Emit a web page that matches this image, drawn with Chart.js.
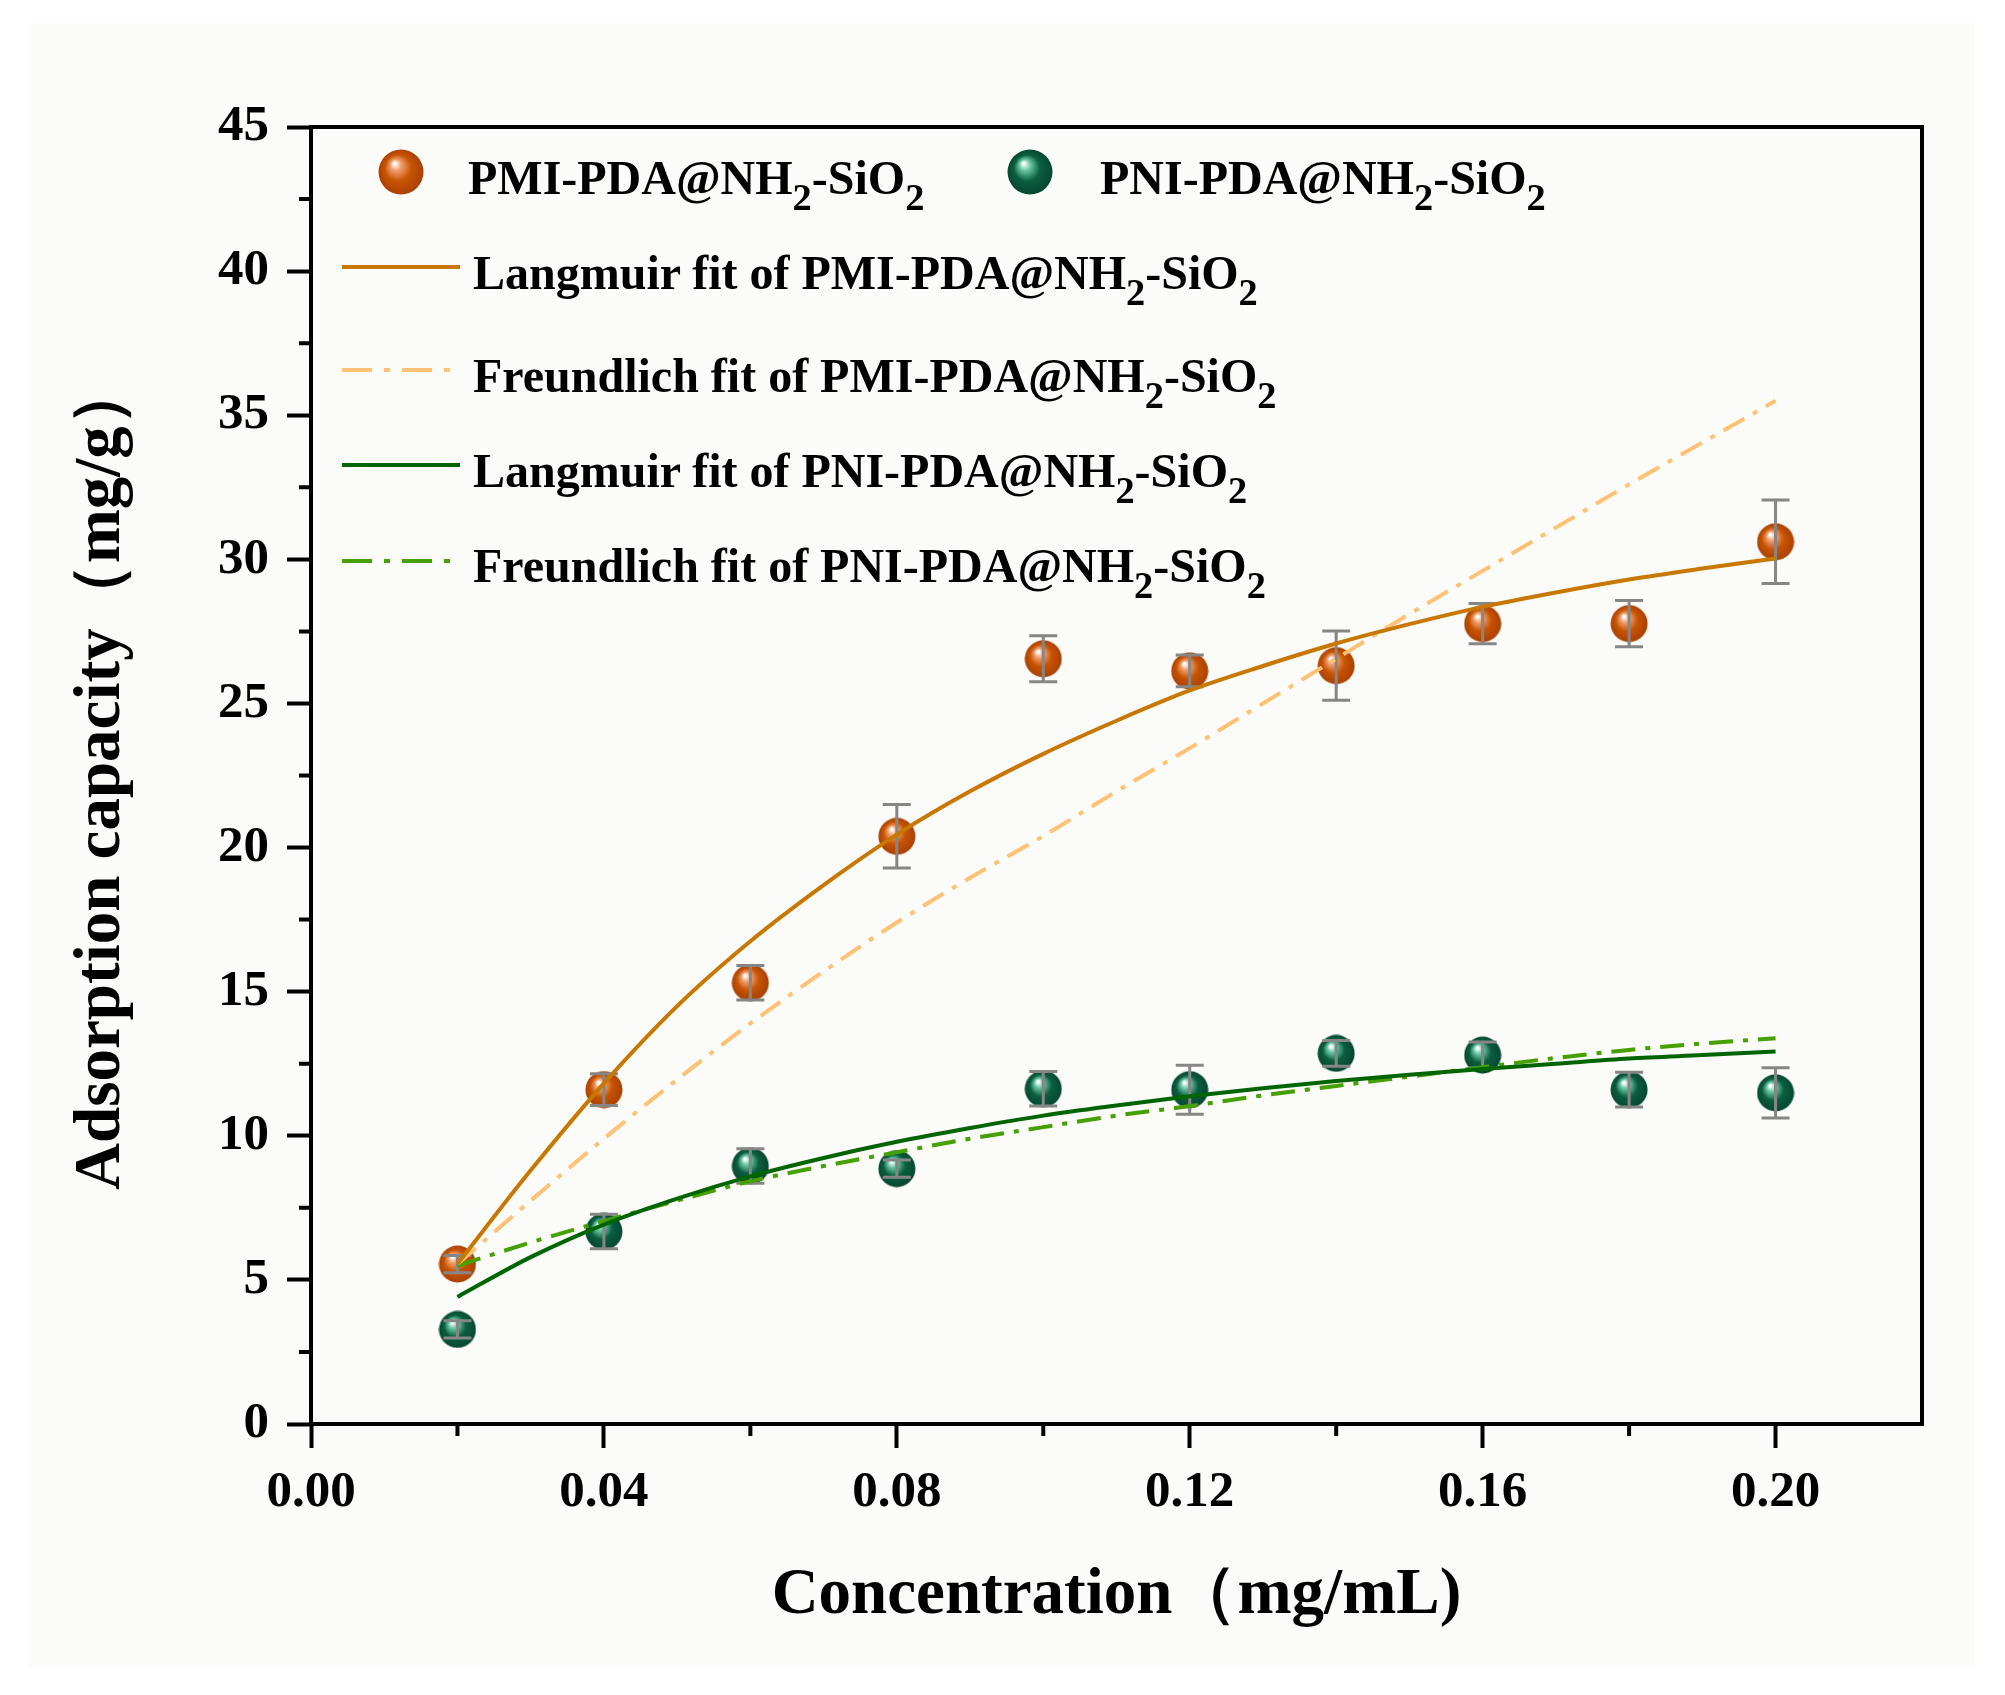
<!DOCTYPE html>
<html>
<head>
<meta charset="utf-8">
<title>Adsorption capacity vs concentration</title>
<script src="https://cdn.jsdelivr.net/npm/chart.js@4.4.1/dist/chart.umd.min.js"></script>
<style>
  body { margin: 0; background: #fff; }
  #wrap { position: relative; width: 2005px; height: 1695px; }
  #legend {
    position: absolute; left: 0; top: 0;
    font-family: 'Liberation Serif', 'Times New Roman', serif;
    font-weight: bold; font-size: 48px; color: #000;
  }
  .lg-text { position: absolute; white-space: nowrap; line-height: 56px; }
  .lg-text sub { font-size: 0.8em; line-height: 0; vertical-align: -16px; }
  .lg-mark, .lg-line { position: absolute; }
</style>
</head>
<body>
<div id="wrap">
  <canvas id="chart" width="2005" height="1695"></canvas>
  <div id="legend"></div>
</div>
<script>
// measured points (mg/mL -> mg/g)
const concentration = [0.02, 0.04, 0.06, 0.08, 0.10, 0.12, 0.14, 0.16, 0.18, 0.20];
const pmiCapacity = [5.55, 11.6, 15.31, 20.39, 26.55, 26.13, 26.31, 27.77, 27.77, 30.61];
const pmiError = [0.3, 0.55, 0.6, 1.1, 0.8, 0.55, 1.2, 0.7, 0.8, 1.45];
const pniCapacity = [3.28, 6.68, 8.95, 8.86, 11.63, 11.6, 12.86, 12.8, 11.6, 11.49];
const pniError = [0.3, 0.6, 0.6, 0.3, 0.6, 0.85, 0.45, 0.45, 0.6, 0.87];

// fitted curves
const fitConcentration = [0.02, 0.03, 0.04, 0.05, 0.06, 0.07, 0.08, 0.09, 0.10, 0.11,
                          0.12, 0.13, 0.14, 0.15, 0.16, 0.17, 0.18, 0.19, 0.20];
const pmiLangmuir = [5.55, 8.8, 11.82, 14.5, 16.75, 18.7, 20.45, 21.95, 23.25, 24.4,
                     25.45, 26.3, 27.08, 27.75, 28.35, 28.85, 29.3, 29.68, 30.03];
const pmiFreundlich = [5.55, 7.75, 9.9, 11.95, 13.9, 15.7, 17.4, 18.95, 20.4, 21.95,
                       23.45, 25.0, 26.55, 28.1, 29.6, 31.1, 32.6, 34.05, 35.5];
const pniLangmuir = [4.41, 5.79, 6.92, 7.82, 8.59, 9.23, 9.79, 10.27, 10.7, 11.05,
                     11.37, 11.65, 11.9, 12.12, 12.32, 12.5, 12.68, 12.8, 12.92];
const pniFreundlich = [5.49, 6.3, 7.04, 7.75, 8.42, 8.95, 9.43, 9.9, 10.3, 10.7,
                       11.03, 11.4, 11.73, 12.05, 12.38, 12.7, 12.98, 13.2, 13.38];

// axes
const xTickValues = [0, 0.04, 0.08, 0.12, 0.16, 0.20];
const xMinorValues = [0.02, 0.06, 0.10, 0.14, 0.18];
const yTickValues = [0, 5, 10, 15, 20, 25, 30, 35, 40, 45];
const yMinorValues = [2.5, 7.5, 12.5, 17.5, 22.5, 27.5, 32.5, 37.5, 42.5];

const seriesNames = [
  'PMI-PDA@NH2-SiO2',
  'PNI-PDA@NH2-SiO2',
  'Langmuir fit of PMI-PDA@NH2-SiO2',
  'Freundlich fit of PMI-PDA@NH2-SiO2',
  'Langmuir fit of PNI-PDA@NH2-SiO2',
  'Freundlich fit of PNI-PDA@NH2-SiO2'
];
const xTitle = 'Concentration（mg/mL)';
const yTitle = 'Adsorption capacity（mg/g）';

const FONT = "'Liberation Serif', 'Times New Roman', serif";
const DASH_DOT = [24, 10, 5, 10];

// shiny ball used as point style
function makeBall(size, light, base, dark) {
  const c = document.createElement('canvas');
  c.width = size; c.height = size;
  const g = c.getContext('2d');
  const r = size / 2;
  const grad = g.createRadialGradient(r * 0.72, r * 0.62, 1, r, r, r);
  grad.addColorStop(0, '#ffffff');
  grad.addColorStop(0.2, light);
  grad.addColorStop(0.55, base);
  grad.addColorStop(1, dark);
  g.fillStyle = grad;
  g.beginPath();
  g.arc(r, r, r - 0.5, 0, Math.PI * 2);
  g.fill();
  return c;
}
const orangeBall = makeBall(38, '#f0a070', '#c85404', '#a84000');
const greenBall = makeBall(38, '#6cc8a8', '#0b5e40', '#064632');

const toPoints = (xs, ys) => xs.map((x, i) => ({ x: x, y: ys[i] }));

const bgPlugin = {
  id: 'paper',
  beforeDraw(chart) {
    const ctx = chart.ctx;
    ctx.save();
    ctx.fillStyle = '#ffffff';
    ctx.fillRect(0, 0, chart.width, chart.height);
    ctx.fillStyle = '#fbfbf9';
    ctx.fillRect(28, 23, 1947, 1644);
    ctx.restore();
  }
};

const errorBarPlugin = {
  id: 'errorBars',
  afterDatasetDraw(chart, args) {
    const ds = chart.data.datasets[args.index];
    if (!ds.errors) return;
    const { ctx, scales: { x, y } } = chart;
    ctx.save();
    ctx.strokeStyle = '#868686';
    ctx.lineWidth = 3;
    ds.data.forEach((p, i) => {
      const px = x.getPixelForValue(p.x);
      const top = y.getPixelForValue(p.y + ds.errors[i]);
      const bot = y.getPixelForValue(p.y - ds.errors[i]);
      ctx.beginPath();
      ctx.moveTo(px, top); ctx.lineTo(px, bot);
      ctx.moveTo(px - 14, top); ctx.lineTo(px + 14, top);
      ctx.moveTo(px - 14, bot); ctx.lineTo(px + 14, bot);
      ctx.stroke();
    });
    ctx.restore();
  }
};

const framePlugin = {
  id: 'frame',
  afterDraw(chart) {
    const { ctx, chartArea: a, scales: { x, y } } = chart;
    ctx.save();
    ctx.strokeStyle = '#000';
    ctx.lineWidth = 4;
    ctx.strokeRect(a.left, a.top, a.right - a.left, a.bottom - a.top);
    ctx.beginPath();
    yMinorValues.forEach(v => {
      const py = y.getPixelForValue(v);
      ctx.moveTo(a.left - 12, py); ctx.lineTo(a.left, py);
    });
    xMinorValues.forEach(v => {
      const px = x.getPixelForValue(v);
      ctx.moveTo(px, a.bottom); ctx.lineTo(px, a.bottom + 12);
    });
    ctx.stroke();
    ctx.restore();
  }
};

new Chart(document.getElementById('chart'), {
  type: 'scatter',
  data: {
    datasets: [
      {
        label: seriesNames[0],
        data: toPoints(concentration, pmiCapacity),
        errors: pmiError,
        pointStyle: orangeBall,
        pointRadius: 19,
        order: 2
      },
      {
        label: seriesNames[1],
        data: toPoints(concentration, pniCapacity),
        errors: pniError,
        pointStyle: greenBall,
        pointRadius: 19,
        order: 2
      },
      {
        label: seriesNames[2],
        data: toPoints(fitConcentration, pmiLangmuir),
        showLine: true, pointRadius: 0,
        borderColor: '#c87800', borderWidth: 4,
        cubicInterpolationMode: 'monotone',
        order: 0
      },
      {
        label: seriesNames[3],
        data: toPoints(fitConcentration, pmiFreundlich),
        showLine: true, pointRadius: 0,
        borderColor: '#ffc274', borderWidth: 4, borderDash: DASH_DOT,
        cubicInterpolationMode: 'monotone',
        order: 1
      },
      {
        label: seriesNames[4],
        data: toPoints(fitConcentration, pniLangmuir),
        showLine: true, pointRadius: 0,
        borderColor: '#006400', borderWidth: 4,
        cubicInterpolationMode: 'monotone',
        order: 0
      },
      {
        label: seriesNames[5],
        data: toPoints(fitConcentration, pniFreundlich),
        showLine: true, pointRadius: 0,
        borderColor: '#46a000', borderWidth: 4, borderDash: DASH_DOT,
        cubicInterpolationMode: 'monotone',
        order: 1
      }
    ]
  },
  options: {
    responsive: false,
    animation: false,
    events: [],
    layout: { padding: { top: 127, right: 83, left: 0, bottom: 0 } },
    plugins: { legend: { display: false }, tooltip: { enabled: false } },
    scales: {
      x: {
        type: 'linear', min: 0, max: 0.22,
        afterBuildTicks: s => { s.ticks = xTickValues.map(v => ({ value: v })); },
        afterFit: s => { s.height = 271; },
        border: { display: false },
        grid: { drawOnChartArea: false, drawTicks: true, tickLength: 24, tickWidth: 4, tickColor: '#000' },
        ticks: {
          color: '#000', padding: 14, maxRotation: 0,
          font: { family: FONT, size: 51, weight: 'bold' },
          callback: v => Number(v).toFixed(2)
        },
        title: {
          display: true, text: xTitle, color: '#000',
          font: { family: FONT, size: 65, weight: 'bold' },
          padding: { top: 0, bottom: 60 }
        }
      },
      y: {
        type: 'linear', min: 0, max: 45,
        afterBuildTicks: s => { s.ticks = yTickValues.map(v => ({ value: v })); },
        afterFit: s => { s.width = 311; },
        border: { display: false },
        grid: { drawOnChartArea: false, drawTicks: true, tickLength: 24, tickWidth: 4, tickColor: '#000' },
        ticks: {
          color: '#000', padding: 18,
          font: { family: FONT, size: 51, weight: 'bold' },
          callback: v => String(v)
        },
        title: {
          display: true, text: yTitle, color: '#000',
          font: { family: FONT, size: 65, weight: 'bold' },
          padding: { top: 63, bottom: 0 }
        }
      }
    }
  },
  plugins: [bgPlugin, errorBarPlugin, framePlugin]
});

// legend inside the plot, with chemical subscripts
const chem = s => s.replace(/(NH|SiO)2/g, '$1<sub>2</sub>');
const legend = document.getElementById('legend');

function addText(label, left, cy) {
  const d = document.createElement('div');
  d.className = 'lg-text';
  d.style.left = left + 'px';
  d.style.top = (cy - 28) + 'px';
  d.innerHTML = chem(label);
  legend.appendChild(d);
}
function addBall(color, cx, cy) {
  const c = makeBall(46, ...color);
  c.className = 'lg-mark';
  c.style.left = (cx - 23) + 'px';
  c.style.top = (cy - 23) + 'px';
  legend.appendChild(c);
}
function addLine(stroke, dash, cy) {
  const ns = 'http://www.w3.org/2000/svg';
  const svg = document.createElementNS(ns, 'svg');
  svg.setAttribute('class', 'lg-line');
  svg.setAttribute('width', '120');
  svg.setAttribute('height', '10');
  svg.style.left = '342px';
  svg.style.top = (cy - 5) + 'px';
  const ln = document.createElementNS(ns, 'line');
  ln.setAttribute('x1', '0'); ln.setAttribute('x2', '118');
  ln.setAttribute('y1', '5'); ln.setAttribute('y2', '5');
  ln.setAttribute('stroke', stroke);
  ln.setAttribute('stroke-width', '4');
  if (dash) ln.setAttribute('stroke-dasharray', dash.join(' '));
  svg.appendChild(ln);
  legend.appendChild(svg);
}

addBall(['#f0a070', '#c85404', '#a84000'], 401, 172);
addText(seriesNames[0], 468, 178);
addBall(['#6cc8a8', '#0b5e40', '#064632'], 1030, 172);
addText(seriesNames[1], 1100, 178);

addLine('#c87800', null, 267);
addText(seriesNames[2], 473, 273);
addLine('#ffc274', [30, 12, 6, 12], 370);
addText(seriesNames[3], 473, 376);
addLine('#006400', null, 465);
addText(seriesNames[4], 473, 471);
addLine('#46a000', [30, 12, 6, 12], 561);
addText(seriesNames[5], 473, 566);
</script>
</body>
</html>
